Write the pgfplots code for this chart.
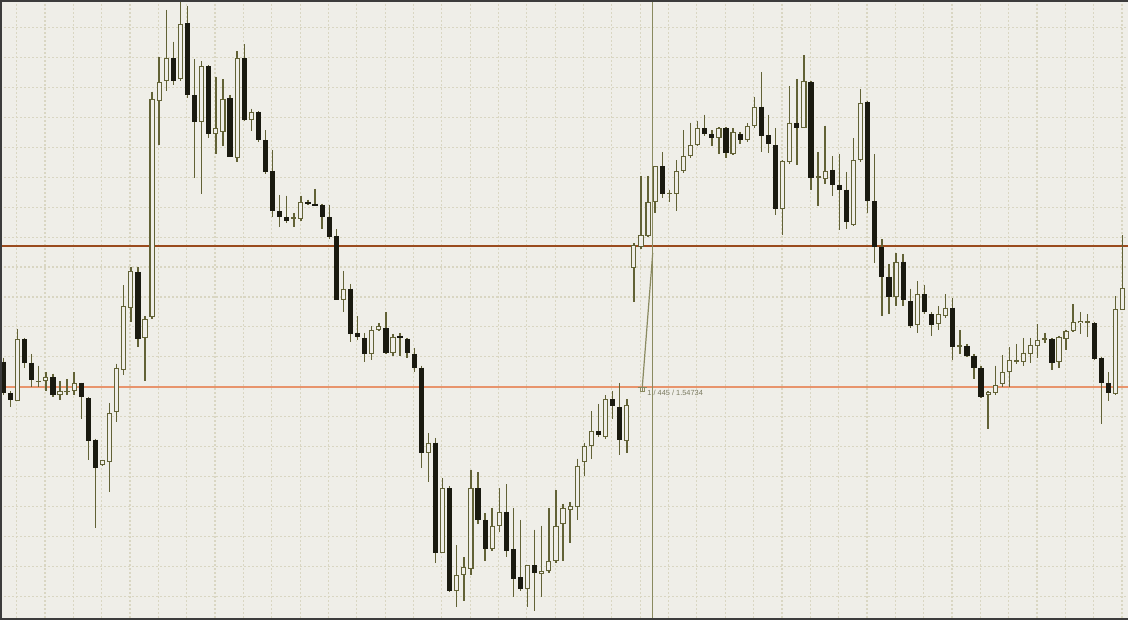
\documentclass[border=0pt]{standalone}
\usepackage{pgfplots}
\pgfplotsset{compat=1.18}
\usepackage{pgfplotstable}
\usepackage{fontspec}
\setmainfont{Liberation Sans}
\definecolor{bgc}{HTML}{EFEEE8}
\definecolor{gridc}{HTML}{D9D6C2}
\definecolor{olv}{HTML}{626236}
\definecolor{blk}{HTML}{1A1A10}
\definecolor{brn}{HTML}{9A4B1E}
\definecolor{orn}{HTML}{E8946C}
\definecolor{xhair}{HTML}{8A8A60}
\definecolor{brd}{HTML}{3C3C3C}
\definecolor{txtc}{HTML}{7A7A60}

% screen units: y grows downward (0 = top, 1568.6 = bottom)
% bullish (hollow) candles: o = body bottom, c = body top
\pgfplotstableread{
i o h l c
2 1015 832 1015 858
5 967 925 978 963
6 963 942 990 953
8 1000 965 1012 988
9 991 960 1000 988
10 990 942 1000 970
14 1177 1163 1180 1165
15 1170 1020 1245 1045
16 1043 920 1068 930
17 937 722 950 775
18 778 675 815 685
20 855 800 965 808
21 803 232 808 250
22 255 145 368 208
23 205 25 230 148
25 200 0 205 60
28 308 155 490 168
30 340 195 390 325
31 333 200 370 250
33 400 130 410 148
35 303 275 332 283
41 555 540 575 550
42 555 495 560 512
48 760 685 790 730
52 895 825 910 835
53 835 818 838 825
55 893 845 900 852
60 1145 1095 1220 1120
62 1400 1210 1400 1235
64 1495 1380 1535 1455
65 1455 1410 1520 1435
66 1440 1188 1455 1235
69 1390 1285 1395 1330
70 1330 1235 1345 1295
74 1490 1430 1535 1430
76 1452 1330 1510 1445
77 1445 1285 1450 1420
78 1420 1240 1425 1330
79 1325 1275 1420 1285
80 1290 1270 1375 1280
81 1282 1160 1315 1178
82 1170 1120 1205 1128
83 1128 1040 1160 1090
85 1105 1000 1110 1010
88 1115 1010 1145 1025
89 678 615 765 620
90 625 445 630 595
91 597 445 600 510
92 512 420 540 420
94 492 480 512 488
95 490 405 535 433
96 433 330 437 395
97 395 310 400 368
98 368 305 370 325
101 350 322 390 325
103 390 325 392 335
105 355 312 358 320
106 320 245 323 270
110 528 405 595 408
111 410 218 415 310
113 323 140 325 205
115 450 385 520 446
116 452 318 465 432
120 568 350 572 405
121 405 225 410 260
126 752 640 775 662
129 822 712 842 745
132 820 775 835 795
133 800 745 805 778
135 877 835 895 873
139 1000 990 1085 993
140 995 925 1000 975
141 972 898 980 942
142 942 878 978 910
143 915 870 920 911
144 915 855 925 892
145 895 855 918 872
146 875 820 905 860
147 860 842 868 856
149 915 850 930 852
150 858 835 885 838
151 838 770 840 815
152 818 790 845 812
153 817 795 852 813
157 998 750 1000 783
158 785 595 785 728
}\bull

% bearish (filled) candles: o = body top, c = body bottom
\pgfplotstableread{
i o h l c
0 915 905 1000 995
1 995 990 1030 1012
3 858 855 930 918
4 918 895 980 962
7 955 945 1005 1000
11 968 968 1060 1005
12 1008 1005 1165 1115
13 1112 1110 1335 1185
19 688 675 878 857
24 148 105 215 205
26 58 15 248 240
27 240 150 450 308
29 168 165 350 338
32 248 240 398 398
34 148 112 305 303
36 283 282 358 355
37 355 330 440 435
38 432 380 548 535
39 535 493 575 550
40 550 495 565 558
43 512 505 518 517
44 515 478 520 520
45 518 515 580 550
46 550 518 605 600
47 597 580 760 760
49 730 718 865 845
50 843 800 860 852
51 855 842 915 895
54 830 790 895 893
56 850 842 900 855
57 857 855 905 893
58 895 880 940 930
59 930 925 1185 1145
61 1120 1108 1425 1400
63 1235 1230 1498 1495
67 1235 1195 1325 1315
68 1315 1298 1420 1390
71 1295 1225 1410 1395
72 1390 1285 1510 1465
73 1460 1315 1495 1490
75 1430 1340 1545 1450
84 1090 1022 1105 1100
86 1010 990 1060 1028
87 1030 970 1150 1112
93 420 385 502 492
99 325 290 345 340
100 340 330 370 350
102 325 322 400 388
104 340 335 365 355
107 270 183 385 343
108 342 290 388 365
109 368 325 545 528
112 310 200 418 325
114 208 205 480 450
117 430 395 495 468
118 468 390 582 480
119 480 435 580 562
122 258 255 540 508
123 508 390 665 625
124 625 605 800 700
125 700 668 795 752
127 662 642 775 760
128 762 730 830 825
130 745 720 795 790
131 795 790 850 822
134 778 755 910 878
136 875 870 902 900
137 900 895 960 930
138 932 925 1008 1005
148 858 855 935 918
154 818 815 910 908
155 905 902 1072 970
156 970 942 1015 995
}\bear

\pgfplotsset{candle/.style 2 args={draw=none, mark=none, forget plot,
  error bars/.cd, y dir=plus, y explicit, error mark=none,
  error bar style={draw=#1, line width=#2, solid}}}

\begin{document}
\begin{tikzpicture}
\begin{axis}[
  name=ax,
  width=564pt, height=310pt, scale only axis,
  xmin=-0.466, xmax=158.74,
  ymin=0, ymax=1568.6, y dir=reverse,
  axis background/.style={fill=bgc},
  axis line style={draw=none},
  xtick={1.89,5.89,...,158}, ytick={70,145.7,...,1510},
  xticklabels={}, yticklabels={},
  major tick length=0pt,
  grid=major,
  major grid style={draw=gridc, line width=0.6pt, dash pattern=on 1pt off 1pt},
]
% horizontal levels
\addplot[brn, line width=1pt, forget plot] coordinates {(-1,623) (160,623)};
\addplot[orn, line width=1pt, forget plot] coordinates {(-1,980) (160,980)};
% wicks
\addplot[candle={olv}{0.7pt}]
  table[x=i, y=h, y error plus expr={\thisrow{l}-\thisrow{h}}] {\bull};
\addplot[candle={olv}{0.7pt}]
  table[x=i, y=h, y error plus expr={\thisrow{l}-\thisrow{h}}] {\bear};
% bullish bodies: outline then hollow inside
\addplot[candle={olv}{2.6pt}]
  table[x=i, y=c, y error plus expr={max(\thisrow{o}-\thisrow{c},2.5)}] {\bull};
\addplot[candle={bgc}{1.55pt}]
  table[x=i, y expr={\thisrow{c}+2.5}, y error plus expr={max(\thisrow{o}-\thisrow{c}-5,0)}] {\bull};
% bearish bodies
\addplot[candle={blk}{2.6pt}]
  table[x=i, y=o, y error plus expr={max(\thisrow{c}-\thisrow{o},2.5)}] {\bear};
% crosshair and measuring line
\addplot[xhair, line width=0.75pt, forget plot] coordinates {(91.66,-10) (91.66,1580)};
\addplot[xhair, line width=0.6pt, forget plot] coordinates {(90.19,978) (91.66,640)};
\addplot[only marks, mark=square, mark size=1.1pt, xhair, line width=0.5pt, forget plot] coordinates {(90.19,986)};
\addplot[only marks, mark=+, mark size=2.2pt, xhair, line width=0.5pt, forget plot] coordinates {(90.19,980)};
\node[anchor=west, inner sep=0pt, text=txtc, font=\fontsize{3.7}{4.5}\selectfont] at (axis cs:90.85,994) {1 / 445 / 1.54734};
% frame
\draw[brd, line width=2.4pt] (rel axis cs:1,1) -- (rel axis cs:0,1) -- (rel axis cs:0,0) -- (rel axis cs:1,0);
\end{axis}
\pgfresetboundingbox
\path[use as bounding box] (ax.south west) rectangle (ax.north east);
\end{tikzpicture}
\end{document}
